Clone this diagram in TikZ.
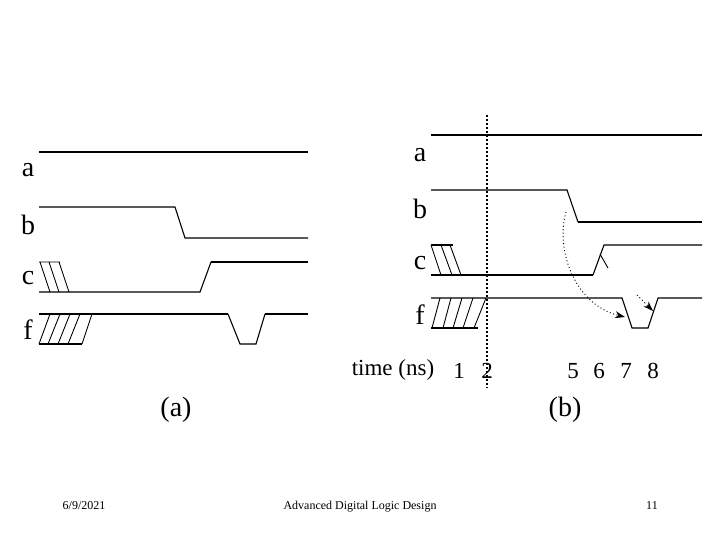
\documentclass[tikz,border=0pt]{standalone}
\usepackage{fontspec}
\setmainfont{Liberation Serif}
\usetikzlibrary{arrows.meta}
\begin{document}
\begin{tikzpicture}[x=1pt,y=-1pt,
  lbl/.style={font=\fontsize{28}{28}\selectfont,inner sep=0pt},
  num/.style={font=\fontsize{23}{23}\selectfont,inner sep=0pt},
  foot/.style={font=\fontsize{12}{12}\selectfont,inner sep=0pt,anchor=base},
  thn/.style={line width=1.1pt},
  thk/.style={line width=1.9pt},
  hatch/.style={line width=0.9pt}]
\path[use as bounding box] (0,0) rectangle (720,540);
% ---------- (a)
\node[lbl] (la) at (28,170) {a};
\node[lbl] (lb) at (28,225) {b};
\node[lbl] (lc) at (28,278) {c};
\node[lbl] (lf) at (28,330) {f};
\node[lbl] (capa) at (176,410) {(a)};
\draw[thk] (39,152) -- (308,152);
\draw[thn] (39,207) -- (175,207) -- (185,238) -- (308,238);
\draw[thn] (39,292) -- (200,292) -- (211,262);
\draw[thk] (211,262) -- (308,262);
\draw[hatch] (39,262) -- (60,262) (40,262) -- (50,292) (49,262) -- (59,292) (59,262) -- (69,292);
\draw[thk] (39,314) -- (228,314);
\draw[thn] (228,314) -- (240,344) -- (256,344) -- (265,314);
\draw[thk] (265,314) -- (308,314);
\draw[thk] (39,344) -- (82,344);
\draw[hatch] (39,344) -- (50,314) (48,344) -- (60,314) (58,344) -- (70,314) (68,344) -- (80,314) (82,344) -- (92,314);
% ---------- (b)
\node[lbl] (ra) at (420,155) {a};
\node[lbl] (rb) at (420,209) {b};
\node[lbl] (rc) at (420,263) {c};
\node[lbl] (rf) at (420,315) {f};
\coordinate (dtop) at (487,115);
\coordinate (dbot) at (487,388);
\draw[thn,dash pattern=on 2pt off 2pt] (dtop) -- (dbot);
\draw[thn] (431,135) -- (702,135);
\draw[thn] (431,190) -- (567,190) -- (578,222);
\draw[thk] (578,222) -- (702,222);
\draw[thk] (431,275) -- (593,275);
\draw[thn] (593,275) -- (604,245) -- (702,245);
\draw[thk] (431,245) -- (453,245);
\draw[hatch] (431,245) -- (441,275) (441,245) -- (452,275) (450,245) -- (461,275);
\draw[thn] (431,298) -- (622,298) -- (632,328) -- (648,328) -- (658,298) -- (702,298);
\draw[thn] (431,328) -- (478,328);
\draw[hatch] (432,328) -- (440,298) (443,328) -- (451,298) (453,328) -- (462,298) (463,328) -- (473,298) (474,328) -- (486,298);
\coordinate (ctick1) at (600,254);
\coordinate (ctick2) at (608,268);
\draw[hatch] (ctick1) -- (ctick2);
\coordinate (bstart) at (566,212);
\coordinate (fend) at (625,317);
\draw[hatch,dash pattern=on 1pt off 2.5pt,-{Stealth[length=10pt,width=7pt]}] (bstart) .. controls (555,250) and (575,305) .. (fend);
\coordinate (fend2) at (653,311);
\draw[hatch,dash pattern=on 1pt off 2.5pt,-{Stealth[length=10pt,width=7pt]}] (637,295) -- (fend2);
\node[num] (time) at (393,370) {time (ns)};
\node[num] (n1) at (459,371) {1};
\node[num] (n2) at (487,371) {2};
\node[num] (n5) at (573,371) {5};
\node[num] (n6) at (599,371) {6};
\node[num] (n7) at (626,371) {7};
\node[num] (n8) at (653,371) {8};
\node[lbl] (capb) at (565,410) {(b)};
% footer
\node[foot] (date) at (84,509) {6/9/2021};
\node[foot] (title) at (360,509) {Advanced Digital Logic Design};
\node[foot] (page) at (652,509) {11};
\end{tikzpicture}
\end{document}
